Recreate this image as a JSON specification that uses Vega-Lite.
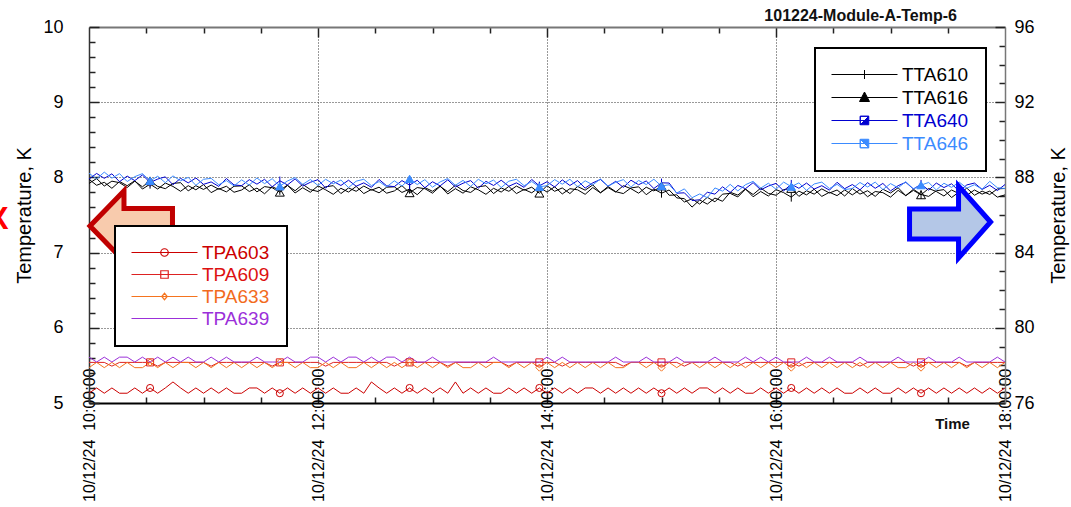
{
"$schema":"https://vega.github.io/schema/vega-lite/v6.json",
"width":916,"height":376,
"autosize":{"type":"none"},
"padding":{"left":89,"top":27,"right":66,"bottom":104},
"background":"white",
"title":{"text":"101224-Module-A-Temp-6","anchor":"end","frame":"group","fontSize":16,"fontWeight":"bold","font":"Liberation Sans","color":"#111","dx":-48,"dy":25,"offset":6,"baseline":"alphabetic"},
"config":{"font":"Liberation Sans","view":{"stroke":null},"axis":{"labelFont":"Liberation Sans","titleFont":"Liberation Sans"},"legend":{"labelFont":"Liberation Sans"}},
"datasets":{"d":[
{"m":0,"TPA603":5.13,"TPA609":5.54,"TPA633":5.47,"TPA639":5.61,"TTA610":87.90,"TTA616":87.68,"TTA640":87.91,"TTA646":88.22},
{"m":4,"TPA603":5.2,"TPA609":5.54,"TPA633":5.54,"TPA639":5.545,"TTA610":87.58,"TTA616":87.94,"TTA640":88.21,"TTA646":87.92},
{"m":8,"TPA603":5.13,"TPA609":5.54,"TPA633":5.47,"TPA639":5.61,"TTA610":87.74,"TTA616":87.54,"TTA640":87.95,"TTA646":88.28},
{"m":12,"TPA603":5.2,"TPA609":5.49,"TPA633":5.54,"TPA639":5.545,"TTA610":87.42,"TTA616":87.80,"TTA640":88.19,"TTA646":87.96},
{"m":16,"TPA603":5.13,"TPA609":5.54,"TPA633":5.47,"TPA639":5.61,"TTA610":87.78,"TTA616":87.72,"TTA640":87.77,"TTA646":88.20},
{"m":20,"TPA603":5.13,"TPA609":5.54,"TPA633":5.54,"TPA639":5.61,"TTA610":87.56,"TTA616":87.46,"TTA640":88.07,"TTA646":87.78},
{"m":24,"TPA603":5.2,"TPA609":5.54,"TPA633":5.47,"TPA639":5.545,"TTA610":87.82,"TTA616":87.80,"TTA640":87.83,"TTA646":88.04},
{"m":28,"TPA603":5.13,"TPA609":5.54,"TPA633":5.47,"TPA639":5.61,"TTA610":87.38,"TTA616":87.50,"TTA640":88.13,"TTA646":88.20},
{"m":32,"TPA603":5.2,"TPA609":5.54,"TPA633":5.54,"TPA639":5.545,"TTA610":87.64,"TTA616":87.82,"TTA640":87.73,"TTA646":87.82},
{"m":36,"TPA603":5.13,"TPA609":5.49,"TPA633":5.47,"TPA639":5.61,"TTA610":87.38,"TTA616":87.52,"TTA640":87.91,"TTA646":88.06},
{"m":40,"TPA603":5.2,"TPA609":5.54,"TPA633":5.54,"TPA639":5.545,"TTA610":87.70,"TTA616":87.40,"TTA640":88.03,"TTA646":87.72},
{"m":44,"TPA603":5.28,"TPA609":5.54,"TPA633":5.47,"TPA639":5.61,"TTA610":87.52,"TTA616":87.68,"TTA640":87.61,"TTA646":88.08},
{"m":48,"TPA603":5.2,"TPA609":5.54,"TPA633":5.54,"TPA639":5.545,"TTA610":87.26,"TTA616":87.72,"TTA640":87.95,"TTA646":87.82},
{"m":52,"TPA603":5.13,"TPA609":5.54,"TPA633":5.54,"TPA639":5.61,"TTA610":87.56,"TTA616":87.28,"TTA640":87.71,"TTA646":88.00},
{"m":56,"TPA603":5.2,"TPA609":5.54,"TPA633":5.47,"TPA639":5.545,"TTA610":87.34,"TTA616":87.56,"TTA640":87.97,"TTA646":87.58},
{"m":60,"TPA603":5.13,"TPA609":5.54,"TPA633":5.54,"TPA639":5.545,"TTA610":87.62,"TTA616":87.36,"TTA640":87.63,"TTA646":87.90},
{"m":64,"TPA603":5.2,"TPA609":5.49,"TPA633":5.47,"TPA639":5.61,"TTA610":87.19,"TTA616":87.59,"TTA640":87.76,"TTA646":87.95},
{"m":68,"TPA603":5.13,"TPA609":5.54,"TPA633":5.54,"TPA639":5.545,"TTA610":87.41,"TTA616":87.37,"TTA640":87.52,"TTA646":87.61},
{"m":72,"TPA603":5.2,"TPA609":5.54,"TPA633":5.47,"TPA639":5.61,"TTA610":87.23,"TTA616":87.53,"TTA640":87.94,"TTA646":87.83},
{"m":76,"TPA603":5.13,"TPA609":5.54,"TPA633":5.54,"TPA639":5.545,"TTA610":87.53,"TTA616":87.21,"TTA640":87.60,"TTA646":87.55},
{"m":80,"TPA603":5.13,"TPA609":5.54,"TPA633":5.47,"TPA639":5.545,"TTA610":87.55,"TTA616":87.33,"TTA640":87.56,"TTA646":87.87},
{"m":84,"TPA603":5.2,"TPA609":5.54,"TPA633":5.54,"TPA639":5.545,"TTA610":87.25,"TTA616":87.61,"TTA640":87.88,"TTA646":87.59},
{"m":88,"TPA603":5.2,"TPA609":5.54,"TPA633":5.47,"TPA639":5.61,"TTA610":87.43,"TTA616":87.23,"TTA640":87.64,"TTA646":87.97},
{"m":92,"TPA603":5.13,"TPA609":5.54,"TPA633":5.54,"TPA639":5.545,"TTA610":87.13,"TTA616":87.51,"TTA640":87.90,"TTA646":87.67},
{"m":96,"TPA603":5.2,"TPA609":5.49,"TPA633":5.47,"TPA639":5.545,"TTA610":87.51,"TTA616":87.45,"TTA640":87.50,"TTA646":87.93},
{"m":100,"TPA603":5.13,"TPA609":5.54,"TPA633":5.54,"TPA639":5.545,"TTA610":87.31,"TTA616":87.21,"TTA640":87.82,"TTA646":87.53},
{"m":104,"TPA603":5.2,"TPA609":5.54,"TPA633":5.54,"TPA639":5.61,"TTA610":87.59,"TTA616":87.57,"TTA640":87.60,"TTA646":87.81},
{"m":108,"TPA603":5.13,"TPA609":5.54,"TPA633":5.47,"TPA639":5.545,"TTA610":87.17,"TTA616":87.29,"TTA640":87.92,"TTA646":87.99},
{"m":112,"TPA603":5.2,"TPA609":5.54,"TPA633":5.54,"TPA639":5.545,"TTA610":87.45,"TTA616":87.63,"TTA640":87.54,"TTA646":87.63},
{"m":116,"TPA603":5.13,"TPA609":5.54,"TPA633":5.47,"TPA639":5.61,"TTA610":87.21,"TTA616":87.35,"TTA640":87.74,"TTA646":87.89},
{"m":120,"TPA603":5.2,"TPA609":5.54,"TPA633":5.47,"TPA639":5.61,"TTA610":87.55,"TTA616":87.25,"TTA640":87.88,"TTA646":87.57},
{"m":124,"TPA603":5.13,"TPA609":5.49,"TPA633":5.54,"TPA639":5.545,"TTA610":87.34,"TTA616":87.50,"TTA640":87.43,"TTA646":87.90},
{"m":128,"TPA603":5.2,"TPA609":5.54,"TPA633":5.47,"TPA639":5.61,"TTA610":87.10,"TTA616":87.56,"TTA640":87.79,"TTA646":87.66},
{"m":132,"TPA603":5.13,"TPA609":5.54,"TPA633":5.54,"TPA639":5.545,"TTA610":87.42,"TTA616":87.14,"TTA640":87.57,"TTA646":87.86},
{"m":136,"TPA603":5.13,"TPA609":5.54,"TPA633":5.47,"TPA639":5.61,"TTA610":87.22,"TTA616":87.44,"TTA640":87.85,"TTA646":87.46},
{"m":140,"TPA603":5.2,"TPA609":5.54,"TPA633":5.47,"TPA639":5.61,"TTA610":87.52,"TTA616":87.26,"TTA640":87.53,"TTA646":87.80},
{"m":144,"TPA603":5.13,"TPA609":5.54,"TPA633":5.54,"TPA639":5.545,"TTA610":87.14,"TTA616":87.54,"TTA640":87.71,"TTA646":87.90},
{"m":148,"TPA603":5.28,"TPA609":5.54,"TPA633":5.47,"TPA639":5.61,"TTA610":87.36,"TTA616":87.32,"TTA640":87.47,"TTA646":87.56},
{"m":152,"TPA603":5.2,"TPA609":5.54,"TPA633":5.54,"TPA639":5.545,"TTA610":87.18,"TTA616":87.48,"TTA640":87.89,"TTA646":87.78},
{"m":156,"TPA603":5.13,"TPA609":5.54,"TPA633":5.47,"TPA639":5.61,"TTA610":87.48,"TTA616":87.16,"TTA640":87.55,"TTA646":87.50},
{"m":160,"TPA603":5.2,"TPA609":5.49,"TPA633":5.54,"TPA639":5.61,"TTA610":87.50,"TTA616":87.28,"TTA640":87.51,"TTA646":87.82},
{"m":164,"TPA603":5.13,"TPA609":5.54,"TPA633":5.47,"TPA639":5.545,"TTA610":87.20,"TTA616":87.56,"TTA640":87.83,"TTA646":87.54},
{"m":168,"TPA603":5.2,"TPA609":5.54,"TPA633":5.54,"TPA639":5.61,"TTA610":87.38,"TTA616":87.18,"TTA640":87.59,"TTA646":87.92},
{"m":172,"TPA603":5.13,"TPA609":5.54,"TPA633":5.47,"TPA639":5.545,"TTA610":87.08,"TTA616":87.46,"TTA640":87.85,"TTA646":87.62},
{"m":176,"TPA603":5.2,"TPA609":5.54,"TPA633":5.54,"TPA639":5.545,"TTA610":87.46,"TTA616":87.40,"TTA640":87.45,"TTA646":87.88},
{"m":180,"TPA603":5.13,"TPA609":5.54,"TPA633":5.47,"TPA639":5.61,"TTA610":87.26,"TTA616":87.16,"TTA640":87.77,"TTA646":87.48},
{"m":184,"TPA603":5.2,"TPA609":5.54,"TPA633":5.54,"TPA639":5.545,"TTA610":87.54,"TTA616":87.52,"TTA640":87.55,"TTA646":87.76},
{"m":188,"TPA603":5.13,"TPA609":5.49,"TPA633":5.47,"TPA639":5.545,"TTA610":87.12,"TTA616":87.24,"TTA640":87.87,"TTA646":87.94},
{"m":192,"TPA603":5.28,"TPA609":5.54,"TPA633":5.54,"TPA639":5.545,"TTA610":87.40,"TTA616":87.58,"TTA640":87.49,"TTA646":87.58},
{"m":196,"TPA603":5.13,"TPA609":5.54,"TPA633":5.47,"TPA639":5.545,"TTA610":87.16,"TTA616":87.30,"TTA640":87.69,"TTA646":87.84},
{"m":200,"TPA603":5.2,"TPA609":5.54,"TPA633":5.47,"TPA639":5.545,"TTA610":87.50,"TTA616":87.20,"TTA640":87.83,"TTA646":87.52},
{"m":204,"TPA603":5.13,"TPA609":5.54,"TPA633":5.54,"TPA639":5.545,"TTA610":87.34,"TTA616":87.50,"TTA640":87.43,"TTA646":87.90},
{"m":208,"TPA603":5.2,"TPA609":5.54,"TPA633":5.47,"TPA639":5.545,"TTA610":87.10,"TTA616":87.56,"TTA640":87.79,"TTA646":87.66},
{"m":212,"TPA603":5.13,"TPA609":5.54,"TPA633":5.54,"TPA639":5.61,"TTA610":87.42,"TTA616":87.14,"TTA640":87.57,"TTA646":87.86},
{"m":216,"TPA603":5.13,"TPA609":5.54,"TPA633":5.54,"TPA639":5.545,"TTA610":87.22,"TTA616":87.44,"TTA640":87.85,"TTA646":87.46},
{"m":220,"TPA603":5.2,"TPA609":5.49,"TPA633":5.47,"TPA639":5.545,"TTA610":87.52,"TTA616":87.26,"TTA640":87.53,"TTA646":87.80},
{"m":224,"TPA603":5.13,"TPA609":5.54,"TPA633":5.54,"TPA639":5.545,"TTA610":87.14,"TTA616":87.54,"TTA640":87.71,"TTA646":87.90},
{"m":228,"TPA603":5.2,"TPA609":5.54,"TPA633":5.47,"TPA639":5.545,"TTA610":87.36,"TTA616":87.32,"TTA640":87.47,"TTA646":87.56},
{"m":232,"TPA603":5.13,"TPA609":5.54,"TPA633":5.54,"TPA639":5.545,"TTA610":87.18,"TTA616":87.48,"TTA640":87.89,"TTA646":87.78},
{"m":236,"TPA603":5.2,"TPA609":5.54,"TPA633":5.47,"TPA639":5.545,"TTA610":87.48,"TTA616":87.16,"TTA640":87.55,"TTA646":87.50},
{"m":240,"TPA603":5.13,"TPA609":5.54,"TPA633":5.54,"TPA639":5.61,"TTA610":87.22,"TTA616":87.56,"TTA640":87.77,"TTA646":87.56},
{"m":244,"TPA603":5.2,"TPA609":5.54,"TPA633":5.47,"TPA639":5.545,"TTA610":87.50,"TTA616":87.26,"TTA640":87.49,"TTA646":87.88},
{"m":248,"TPA603":5.13,"TPA609":5.49,"TPA633":5.54,"TPA639":5.61,"TTA610":87.12,"TTA616":87.44,"TTA640":87.87,"TTA646":87.64},
{"m":252,"TPA603":5.2,"TPA609":5.54,"TPA633":5.47,"TPA639":5.545,"TTA610":87.40,"TTA616":87.14,"TTA640":87.57,"TTA646":87.90},
{"m":256,"TPA603":5.13,"TPA609":5.54,"TPA633":5.54,"TPA639":5.545,"TTA610":87.34,"TTA616":87.52,"TTA640":87.83,"TTA646":87.50},
{"m":260,"TPA603":5.2,"TPA609":5.54,"TPA633":5.47,"TPA639":5.545,"TTA610":87.10,"TTA616":87.32,"TTA640":87.43,"TTA646":87.82},
{"m":264,"TPA603":5.2,"TPA609":5.54,"TPA633":5.54,"TPA639":5.545,"TTA610":87.46,"TTA616":87.60,"TTA640":87.71,"TTA646":87.60},
{"m":268,"TPA603":5.13,"TPA609":5.54,"TPA633":5.47,"TPA639":5.545,"TTA610":87.18,"TTA616":87.18,"TTA640":87.89,"TTA646":87.92},
{"m":272,"TPA603":5.2,"TPA609":5.54,"TPA633":5.54,"TPA639":5.545,"TTA610":87.52,"TTA616":87.46,"TTA640":87.53,"TTA646":87.54},
{"m":276,"TPA603":5.13,"TPA609":5.54,"TPA633":5.47,"TPA639":5.61,"TTA610":87.24,"TTA616":87.22,"TTA640":87.79,"TTA646":87.74},
{"m":280,"TPA603":5.2,"TPA609":5.49,"TPA633":5.47,"TPA639":5.545,"TTA610":87.14,"TTA616":87.56,"TTA640":87.47,"TTA646":87.88},
{"m":284,"TPA603":5.13,"TPA609":5.54,"TPA633":5.54,"TPA639":5.545,"TTA610":87.44,"TTA616":87.40,"TTA640":87.85,"TTA646":87.48},
{"m":288,"TPA603":5.2,"TPA609":5.54,"TPA633":5.54,"TPA639":5.545,"TTA610":87.50,"TTA616":87.16,"TTA640":87.61,"TTA646":87.84},
{"m":292,"TPA603":5.13,"TPA609":5.54,"TPA633":5.47,"TPA639":5.61,"TTA610":87.08,"TTA616":87.48,"TTA640":87.81,"TTA646":87.62},
{"m":296,"TPA603":5.2,"TPA609":5.54,"TPA633":5.54,"TPA639":5.545,"TTA610":87.38,"TTA616":87.28,"TTA640":87.41,"TTA646":87.90},
{"m":300,"TPA603":5.13,"TPA609":5.54,"TPA633":5.47,"TPA639":5.545,"TTA610":87.16,"TTA616":87.54,"TTA640":87.71,"TTA646":87.54},
{"m":304,"TPA603":5.2,"TPA609":5.54,"TPA633":5.54,"TPA639":5.545,"TTA610":87.33,"TTA616":87.05,"TTA640":87.70,"TTA646":87.61},
{"m":308,"TPA603":5.13,"TPA609":5.54,"TPA633":5.47,"TPA639":5.61,"TTA610":86.91,"TTA616":87.07,"TTA640":87.16,"TTA646":87.17},
{"m":312,"TPA603":5.2,"TPA609":5.49,"TPA633":5.54,"TPA639":5.545,"TTA610":86.87,"TTA616":86.69,"TTA640":87.18,"TTA646":87.39},
{"m":316,"TPA603":5.13,"TPA609":5.54,"TPA633":5.54,"TPA639":5.545,"TTA610":86.42,"TTA616":86.86,"TTA640":86.77,"TTA646":86.92},
{"m":320,"TPA603":5.2,"TPA609":5.54,"TPA633":5.47,"TPA639":5.545,"TTA610":86.80,"TTA616":86.58,"TTA640":86.81,"TTA646":87.12},
{"m":324,"TPA603":5.2,"TPA609":5.54,"TPA633":5.54,"TPA639":5.545,"TTA610":86.58,"TTA616":86.94,"TTA640":87.21,"TTA646":86.92},
{"m":328,"TPA603":5.13,"TPA609":5.54,"TPA633":5.47,"TPA639":5.61,"TTA610":86.90,"TTA616":86.70,"TTA640":87.11,"TTA646":87.44},
{"m":332,"TPA603":5.2,"TPA609":5.54,"TPA633":5.54,"TPA639":5.545,"TTA610":86.73,"TTA616":87.11,"TTA640":87.50,"TTA646":87.27},
{"m":336,"TPA603":5.13,"TPA609":5.54,"TPA633":5.47,"TPA639":5.545,"TTA610":87.21,"TTA616":87.15,"TTA640":87.20,"TTA646":87.63},
{"m":340,"TPA603":5.2,"TPA609":5.49,"TPA633":5.54,"TPA639":5.545,"TTA610":87.06,"TTA616":86.96,"TTA640":87.57,"TTA646":87.28},
{"m":344,"TPA603":5.13,"TPA609":5.54,"TPA633":5.47,"TPA639":5.61,"TTA610":87.39,"TTA616":87.37,"TTA640":87.40,"TTA646":87.61},
{"m":348,"TPA603":5.13,"TPA609":5.54,"TPA633":5.54,"TPA639":5.545,"TTA610":86.97,"TTA616":87.09,"TTA640":87.72,"TTA646":87.79},
{"m":352,"TPA603":5.2,"TPA609":5.54,"TPA633":5.47,"TPA639":5.61,"TTA610":87.25,"TTA616":87.43,"TTA640":87.34,"TTA646":87.43},
{"m":356,"TPA603":5.13,"TPA609":5.54,"TPA633":5.54,"TPA639":5.545,"TTA610":87.01,"TTA616":87.15,"TTA640":87.54,"TTA646":87.69},
{"m":360,"TPA603":5.2,"TPA609":5.54,"TPA633":5.47,"TPA639":5.61,"TTA610":87.35,"TTA616":87.05,"TTA640":87.68,"TTA646":87.37},
{"m":364,"TPA603":5.13,"TPA609":5.54,"TPA633":5.54,"TPA639":5.545,"TTA610":87.19,"TTA616":87.35,"TTA640":87.28,"TTA646":87.75},
{"m":368,"TPA603":5.2,"TPA609":5.54,"TPA633":5.47,"TPA639":5.545,"TTA610":86.95,"TTA616":87.41,"TTA640":87.64,"TTA646":87.51},
{"m":372,"TPA603":5.13,"TPA609":5.49,"TPA633":5.54,"TPA639":5.545,"TTA610":87.27,"TTA616":86.99,"TTA640":87.42,"TTA646":87.71},
{"m":376,"TPA603":5.2,"TPA609":5.54,"TPA633":5.47,"TPA639":5.61,"TTA610":87.07,"TTA616":87.29,"TTA640":87.70,"TTA646":87.31},
{"m":380,"TPA603":5.13,"TPA609":5.54,"TPA633":5.54,"TPA639":5.545,"TTA610":87.37,"TTA616":87.11,"TTA640":87.38,"TTA646":87.65},
{"m":384,"TPA603":5.2,"TPA609":5.54,"TPA633":5.47,"TPA639":5.545,"TTA610":86.99,"TTA616":87.39,"TTA640":87.56,"TTA646":87.75},
{"m":388,"TPA603":5.13,"TPA609":5.54,"TPA633":5.54,"TPA639":5.61,"TTA610":87.21,"TTA616":87.17,"TTA640":87.32,"TTA646":87.41},
{"m":392,"TPA603":5.2,"TPA609":5.54,"TPA633":5.47,"TPA639":5.545,"TTA610":87.03,"TTA616":87.33,"TTA640":87.74,"TTA646":87.63},
{"m":396,"TPA603":5.13,"TPA609":5.54,"TPA633":5.54,"TPA639":5.545,"TTA610":87.33,"TTA616":87.01,"TTA640":87.40,"TTA646":87.35},
{"m":400,"TPA603":5.13,"TPA609":5.54,"TPA633":5.47,"TPA639":5.545,"TTA610":87.07,"TTA616":87.41,"TTA640":87.62,"TTA646":87.41},
{"m":404,"TPA603":5.2,"TPA609":5.49,"TPA633":5.54,"TPA639":5.61,"TTA610":87.35,"TTA616":87.11,"TTA640":87.34,"TTA646":87.73},
{"m":408,"TPA603":5.13,"TPA609":5.54,"TPA633":5.47,"TPA639":5.545,"TTA610":86.97,"TTA616":87.29,"TTA640":87.72,"TTA646":87.49},
{"m":412,"TPA603":5.2,"TPA609":5.54,"TPA633":5.54,"TPA639":5.545,"TTA610":87.25,"TTA616":86.99,"TTA640":87.42,"TTA646":87.75},
{"m":416,"TPA603":5.13,"TPA609":5.54,"TPA633":5.47,"TPA639":5.545,"TTA610":87.19,"TTA616":87.37,"TTA640":87.68,"TTA646":87.35},
{"m":420,"TPA603":5.13,"TPA609":5.54,"TPA633":5.54,"TPA639":5.545,"TTA610":86.95,"TTA616":87.17,"TTA640":87.28,"TTA646":87.67},
{"m":424,"TPA603":5.2,"TPA609":5.54,"TPA633":5.47,"TPA639":5.61,"TTA610":87.31,"TTA616":87.45,"TTA640":87.56,"TTA646":87.45},
{"m":428,"TPA603":5.13,"TPA609":5.54,"TPA633":5.47,"TPA639":5.545,"TTA610":87.03,"TTA616":87.03,"TTA640":87.74,"TTA646":87.77},
{"m":432,"TPA603":5.2,"TPA609":5.49,"TPA633":5.54,"TPA639":5.545,"TTA610":87.37,"TTA616":87.31,"TTA640":87.38,"TTA646":87.39},
{"m":436,"TPA603":5.13,"TPA609":5.54,"TPA633":5.47,"TPA639":5.545,"TTA610":87.09,"TTA616":87.07,"TTA640":87.64,"TTA646":87.59},
{"m":440,"TPA603":5.2,"TPA609":5.54,"TPA633":5.54,"TPA639":5.61,"TTA610":86.99,"TTA616":87.41,"TTA640":87.32,"TTA646":87.73},
{"m":444,"TPA603":5.13,"TPA609":5.54,"TPA633":5.47,"TPA639":5.545,"TTA610":87.29,"TTA616":87.25,"TTA640":87.70,"TTA646":87.33},
{"m":448,"TPA603":5.2,"TPA609":5.54,"TPA633":5.54,"TPA639":5.545,"TTA610":87.35,"TTA616":87.01,"TTA640":87.46,"TTA646":87.69},
{"m":452,"TPA603":5.13,"TPA609":5.54,"TPA633":5.47,"TPA639":5.545,"TTA610":86.93,"TTA616":87.33,"TTA640":87.66,"TTA646":87.47},
{"m":456,"TPA603":5.2,"TPA609":5.54,"TPA633":5.54,"TPA639":5.61,"TTA610":87.23,"TTA616":87.13,"TTA640":87.26,"TTA646":87.75},
{"m":460,"TPA603":5.13,"TPA609":5.49,"TPA633":5.47,"TPA639":5.545,"TTA610":87.05,"TTA616":87.43,"TTA640":87.60,"TTA646":87.43},
{"m":464,"TPA603":5.2,"TPA609":5.54,"TPA633":5.54,"TPA639":5.545,"TTA610":87.33,"TTA616":87.05,"TTA640":87.70,"TTA646":87.61},
{"m":468,"TPA603":5.13,"TPA609":5.54,"TPA633":5.47,"TPA639":5.545,"TTA610":87.11,"TTA616":87.27,"TTA640":87.36,"TTA646":87.37},
{"m":472,"TPA603":5.2,"TPA609":5.54,"TPA633":5.54,"TPA639":5.545,"TTA610":87.27,"TTA616":87.09,"TTA640":87.58,"TTA646":87.79},
{"m":476,"TPA603":5.13,"TPA609":5.54,"TPA633":5.47,"TPA639":5.61,"TTA610":86.95,"TTA616":87.39,"TTA640":87.30,"TTA646":87.45},
{"m":480,"TPA603":5.2,"TPA609":5.54,"TPA633":5.54,"TPA639":5.545,"TTA610":87.07,"TTA616":87.41,"TTA640":87.62,"TTA646":87.41}
]},
"data":{"name":"d"},
"layer":[
{
"transform":[{"fold":["TPA603","TPA609","TPA633","TPA639"],"as":["series","T"]}],
"encoding":{
"x":{"field":"m","type":"quantitative","scale":{"domain":[0,480],"nice":false,"zero":false},
"axis":{"orient":"bottom","values":[0,30,60,90,120,150,180,210,240,270,300,330,360,390,420,450,480],
"labelExpr":"datum.value % 120 === 0 ? '10/12/24\u00a0\u00a0' + (10 + datum.value / 60) + ':00:00' : ''",
"labelAngle":-90,"labelAlign":"right","labelBaseline":"middle","labelFontSize":16,"labelColor":"#000","labelPadding":-25,
"labelOverlap":false,"labelFlush":false,"labelBound":false,
"tickSize":{"condition":{"test":"datum.value % 120 === 0","value":-10},"value":-6},"tickColor":"#222","tickWidth":1.5,
"grid":true,"gridOpacity":{"condition":{"test":"datum.value % 120 === 0 && datum.value > 0 && datum.value < 480","value":1},"value":0},
"gridDash":[1,2],"gridColor":"#333","gridWidth":1,
"domainColor":"#000","domainWidth":2,
"title":"Time","titleFontSize":15,"titleFontWeight":"bold","titleColor":"#111","titleX":863,"titleY":20,"titleAlign":"center","titleBaseline":"middle","titleAngle":0}},
"y":{"field":"T","type":"quantitative","scale":{"domain":[5,10],"nice":false,"zero":false},
"axis":{"orient":"left","values":[5,5.2,5.4,5.6,5.8,6,6.2,6.4,6.6,6.8,7,7.2,7.4,7.6,7.8,8,8.2,8.4,8.6,8.8,9,9.2,9.4,9.6,9.8,10],
"labelExpr":"abs(datum.value - round(datum.value)) < 0.01 ? format(datum.value, 'd') : ''",
"labelFontSize":18,"labelColor":"#000","labelPadding":36,"labelOverlap":false,"labelFlush":false,"labelBound":false,
"tickSize":{"condition":{"test":"abs(datum.value - round(datum.value)) < 0.01","value":-10},"value":-6},"tickColor":"#222","tickWidth":1.5,
"grid":true,"gridOpacity":{"condition":{"test":"abs(datum.value - round(datum.value)) < 0.01 && datum.value > 5.5 && datum.value < 9.5","value":1},"value":0},
"gridDash":[1,2],"gridColor":"#333","gridWidth":1,
"domainColor":"#333","domainWidth":1.5,
"title":"Temperature, K","titleFontSize":20,"titleFontWeight":"normal","titleColor":"#000","titleX":-65,"titleY":188,"titleAngle":270,"titleAlign":"center","titleBaseline":"middle"}},
"color":{"field":"series","type":"nominal","scale":{"domain":["TPA603","TPA609","TPA633","TPA639"],"range":["#cc0000","#dd2222","#f5741f","#9b30d9"]},
"legend":{"orient":"none","legendX":26,"legendY":199,"title":null,"direction":"vertical","strokeColor":"#000","fillColor":"#fff","padding":17,"rowPadding":2,
"symbolSize":100,"symbolOffset":23,"labelOffset":28,"labelFontSize":19,"symbolStrokeWidth":1.2,
"encode":{
"legend":{"update":{"strokeWidth":{"value":2}}},
"symbols":{"update":{
"shape":{"signal":"datum.value==='TPA603' ? 'M-6.6,0L6.6,0M-0.75,0A0.75,0.75 0 1,0 0.75,0A0.75,0.75 0 1,0 -0.75,0' : datum.value==='TPA609' ? 'M-6.6,0L6.6,0M-0.75,-0.75L0.75,-0.75L0.75,0.75L-0.75,0.75Z' : datum.value==='TPA633' ? 'M-6.6,0L6.6,0M0,-0.65L0.55,0L0,0.65L-0.55,0Z' : 'M-6.6,0L6.6,0'"},
"stroke":{"signal":"datum.value==='TPA603' ? '#cc0000' : datum.value==='TPA609' ? '#dd2222' : datum.value==='TPA633' ? '#f5741f' : '#9b30d9'"},
"fill":{"value":"transparent"},"strokeWidth":{"value":1.2},"opacity":{"value":1}}},
"labels":{"update":{"fill":{"signal":"datum.value==='TPA603' ? '#cc0000' : datum.value==='TPA609' ? '#dd1111' : datum.value==='TPA633' ? '#f26b1d' : '#9b30d9'"}}}
}}}
},
"layer":[
{"mark":{"type":"line","strokeWidth":1}},
{"transform":[{"filter":{"field":"m","oneOf":[32,100,168,236,300,368,436]}},{"filter":{"field":"series","oneOf":["TPA603","TPA609","TPA633"]}}],
"mark":{"type":"point","filled":false,"size":50,"strokeWidth":1,"opacity":1},
"encoding":{
"color":{"field":"series","type":"nominal","scale":{"domain":["TPA603","TPA609","TPA633","TPA639"],"range":["#cc0000","#dd2222","#f5741f","#9b30d9"]},"legend":null},
"shape":{"field":"series","type":"nominal","scale":{"domain":["TPA603","TPA609","TPA633"],"range":["circle","square","diamond"]},"legend":null}}}
]
},
{
"transform":[{"fold":["TTA610","TTA616","TTA640","TTA646"],"as":["series","T"]}],
"encoding":{
"x":{"field":"m","type":"quantitative","scale":{"domain":[0,480],"nice":false,"zero":false},
"axis":{"orient":"top","values":[30,60,90,120,150,180,210,240,270,300,330,360,390,420,450],"labels":false,
"tickSize":{"condition":{"test":"datum.value % 120 === 0","value":-10},"value":-6},"tickColor":"#222","tickWidth":1.5,
"grid":false,"domainColor":"#777","domainWidth":2,"title":null}},
"y":{"field":"T","type":"quantitative","scale":{"domain":[76,96],"nice":false,"zero":false},
"axis":{"orient":"right","values":[76,77,78,79,80,81,82,83,84,85,86,87,88,89,90,91,92,93,94,95,96],
"labelExpr":"datum.value % 4 === 0 ? datum.value : ''",
"labelFontSize":18,"labelColor":"#000","labelPadding":19,"labelOverlap":false,"labelFlush":false,"labelBound":false,
"tickSize":{"condition":{"test":"datum.value % 4 === 0","value":-10},"value":-6},"tickColor":"#222","tickWidth":1.5,
"grid":false,"domainColor":"#777","domainWidth":1.5,
"title":"Temperature, K","titleFontSize":20,"titleFontWeight":"normal","titleColor":"#000","titleX":53,"titleY":188,"titleAngle":270,"titleAlign":"center","titleBaseline":"middle"}},
"color":{"field":"series","type":"nominal","scale":{"domain":["TTA610","TTA616","TTA640","TTA646"],"range":["#000000","#000000","#0000d0","#3b8bff"]},
"legend":{"orient":"none","legendX":726,"legendY":21,"title":null,"direction":"vertical","strokeColor":"#000","fillColor":"#fff","padding":17,"rowPadding":3,
"symbolSize":100,"symbolOffset":23,"labelOffset":28,"labelFontSize":19,"symbolStrokeWidth":1,
"encode":{
"legend":{"update":{"strokeWidth":{"value":2}}},
"symbols":{"update":{
"shape":{"signal":"datum.value==='TTA610' ? 'M-6.6,0L6.6,0M0,-0.9L0,0.9' : datum.value==='TTA616' ? 'M-6.6,0L6.6,0M0,-1.1L1,0.8L-1,0.8Z' : datum.value==='TTA640' ? 'M-6.6,0L6.6,0M-0.85,-0.85L0.85,-0.85L0.85,0.85L-0.85,0.85ZM-0.85,-0.85L-0.85,0.85L0.85,-0.85Z' : 'M-6.6,0L6.6,0M-0.85,-0.85L0.85,-0.85L0.85,0.85L-0.85,0.85ZM-0.85,-0.85L-0.85,0.85L0.85,0.85Z'"},
"stroke":{"signal":"datum.value==='TTA640' ? '#0000d0' : datum.value==='TTA646' ? '#3b8bff' : '#000000'"},
"fill":{"signal":"datum.value==='TTA640' ? '#0000d0' : datum.value==='TTA646' ? '#3b8bff' : 'transparent'"},
"strokeWidth":{"value":1},"opacity":{"value":1}}},
"labels":{"update":{"fill":{"signal":"datum.value==='TTA640' ? '#0000d0' : datum.value==='TTA646' ? '#3b8bff' : '#000000'"}}}
}}}
},
"layer":[
{"mark":{"type":"line","strokeWidth":1}},
{"transform":[{"filter":{"field":"m","oneOf":[32,100,168,236,300,368,436]}},{"filter":{"field":"series","oneOf":["TTA610","TTA616"]}}],
"mark":{"type":"point","filled":false,"size":80,"strokeWidth":1,"opacity":1},
"encoding":{
"color":{"field":"series","type":"nominal","scale":{"domain":["TTA610","TTA616","TTA640","TTA646"],"range":["#000000","#000000","#0000d0","#3b8bff"]},"legend":null},
"shape":{"field":"series","type":"nominal","scale":{"domain":["TTA610","TTA616"],"range":["M0,-1L0,1","triangle-up"]},"legend":null}}},
{"transform":[{"filter":{"field":"m","oneOf":[32,100,168,236,300,368,436]}},{"filter":{"field":"series","oneOf":["TTA640","TTA646"]}}],
"mark":{"type":"point","filled":true,"size":72,"strokeWidth":1,"opacity":1},
"encoding":{
"color":{"field":"series","type":"nominal","scale":{"domain":["TTA610","TTA616","TTA640","TTA646"],"range":["#000000","#000000","#0000d0","#3b8bff"]},"legend":null},
"stroke":{"field":"series","type":"nominal","scale":{"domain":["TTA640","TTA646"],"range":["#0000d0","#3b8bff"]},"legend":null},
"shape":{"field":"series","type":"nominal","scale":{"domain":["TTA640","TTA646"],"range":["M-1,-1L1,-1L1,1L-1,1ZM-1,-1L-1,1L1,-1Z","M-1,-1L1,-1L1,1L-1,1ZM-1,-1L-1,1L1,1Z"]},"legend":null}}}
]
},
{
"data":{"values":[{}]},
"layer":[
{"mark":{"type":"point","shape":"M-0.82,0L-0.14,-0.7L-0.14,-0.35L0.83,-0.35L0.83,0.35L-0.14,0.35L-0.14,0.7Z","size":10000,"filled":true,"fill":"#f8cbad","stroke":"#c00000","strokeWidth":5,"opacity":1,"strokeJoin":"miter"},
"encoding":{"x":{"datum":22,"type":"quantitative","scale":{"domain":[0,480],"nice":false,"zero":false},"axis":null},"y":{"datum":7.354,"type":"quantitative","scale":{"domain":[5,10],"nice":false,"zero":false},"axis":null}}},
{"mark":{"type":"point","shape":"M0.81,0L0.17,-0.72L0.17,-0.26L-0.81,-0.26L-0.81,0.34L0.17,0.34L0.17,0.72Z","size":10000,"filled":true,"fill":"#b4c7e7","stroke":"#0000ff","strokeWidth":5,"opacity":1,"strokeJoin":"miter"},
"encoding":{"x":{"datum":451.2,"type":"quantitative","scale":{"domain":[0,480],"nice":false,"zero":false},"axis":null},"y":{"datum":7.407,"type":"quantitative","scale":{"domain":[5,10],"nice":false,"zero":false},"axis":null}}},
{"mark":{"type":"text","text":"X","fontSize":32,"fontWeight":"bold","color":"#ff0000","align":"center","baseline":"middle"},
"encoding":{"x":{"datum":-47.7,"type":"quantitative","scale":{"domain":[0,480],"nice":false,"zero":false},"axis":null},"y":{"datum":7.45,"type":"quantitative","scale":{"domain":[5,10],"nice":false,"zero":false},"axis":null}}}
]
}
],
"resolve":{"scale":{"x":"independent","y":"independent","color":"independent","shape":"independent","stroke":"independent"},"axis":{"x":"independent","y":"independent"},"legend":{"color":"independent"}}
}
